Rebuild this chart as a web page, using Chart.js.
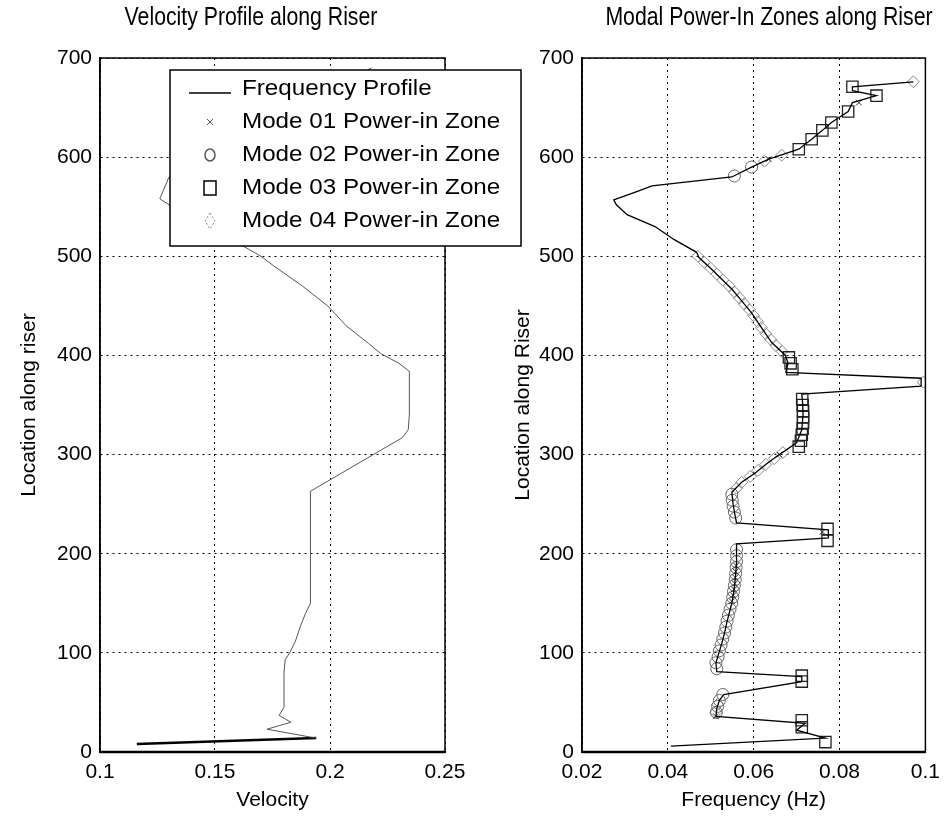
<!DOCTYPE html>
<html>
<head>
<meta charset="utf-8">
<title>Velocity profile and modal power-in zones</title>
<script src="https://cdn.jsdelivr.net/npm/chart.js@4.4.1/dist/chart.umd.min.js"></script>
<style>
  html, body { margin: 0; padding: 0; background: #fff; }
  #wrap { position: relative; width: 948px; height: 821px; overflow: hidden; }
  .panel { position: absolute; top: 0; height: 821px; }
  #left  { left: 0; width: 530px; z-index: 2; }
  #right { left: 505px; width: 443px; z-index: 1; }
</style>
</head>
<body>
<div id="wrap">
  <div class="panel" id="right"><canvas id="freqChart"></canvas></div>
  <div class="panel" id="left"><canvas id="velChart"></canvas></div>
</div>
<script>
// ---- data ----
const LOC_TICKS = [0, 100, 200, 300, 400, 500, 600, 700];
const VEL_TICKS = [0.1, 0.15, 0.2, 0.25];
const FREQ_TICKS = [0.02, 0.04, 0.06, 0.08, 0.1];

const LEGEND_LABELS = [
  'Frequency Profile',
  'Mode 01 Power-in Zone',
  'Mode 02 Power-in Zone',
  'Mode 03 Power-in Zone',
  'Mode 04 Power-in Zone',
];

// velocity profile (left panel)
const velLoc = [8, 14, 23, 30, 37, 45, 60, 80, 93, 101, 112, 126, 140, 150, 180, 220, 263, 317, 325, 340,
  360, 384, 392, 402, 412, 430, 450, 470, 490, 500, 520, 540, 558, 580, 620, 660, 690];
const velVal = [0.116, 0.194, 0.1726, 0.183, 0.1779, 0.18, 0.18, 0.18, 0.1805, 0.1827, 0.185, 0.187, 0.1894, 0.1915, 0.1915, 0.1915, 0.1915, 0.2314, 0.234, 0.2345,
  0.2345, 0.2345, 0.23, 0.222, 0.2168, 0.207, 0.199, 0.188, 0.1757, 0.17, 0.155, 0.138, 0.126, 0.13, 0.16, 0.195, 0.218];

// frequency profile (right panel)
const freqLoc = [6, 14, 22, 29, 36, 44, 52, 58, 71, 76, 81, 90, 100, 110, 120, 130, 140, 150, 160, 170,
  180, 190, 200, 210, 216, 224, 231, 240, 250, 262, 272, 282, 290, 298, 305, 312, 325, 340, 352, 361,
  369, 377, 383, 392, 400, 413, 428, 443, 455, 467, 477, 487, 499, 504, 517, 530, 542, 552, 557, 565,
  571, 580, 590, 598, 608, 618, 627, 635, 646, 655, 662, 667, 671, 676];
const freqVal = [0.0407, 0.0767, 0.07, 0.072, 0.0512, 0.0514, 0.052, 0.053, 0.0712, 0.0712, 0.0514, 0.0512, 0.0519, 0.0526, 0.0532, 0.0537, 0.0543, 0.0549, 0.0553, 0.0556,
  0.0558, 0.056, 0.056, 0.056, 0.0774, 0.0774, 0.056, 0.0556, 0.0552, 0.0549, 0.0572, 0.0605, 0.0628, 0.0653, 0.0677, 0.07, 0.0712, 0.0715, 0.0714, 0.0712,
  0.099, 0.099, 0.0675, 0.068, 0.0674, 0.0642, 0.0618, 0.0595, 0.0572, 0.0549, 0.0525, 0.0502, 0.0472, 0.0467, 0.0414, 0.037, 0.0305, 0.028, 0.0274, 0.0326,
  0.0363, 0.0549, 0.0595, 0.0635, 0.0705, 0.0735, 0.076, 0.0781, 0.082, 0.083, 0.0886, 0.083, 0.083, 0.0972];

// power-in zone markers
const m1Loc = [36, 152, 158, 164, 170, 176, 182, 188, 222, 300, 598, 655];
const m1Val = [0.0512, 0.0549, 0.0552, 0.0554, 0.0556, 0.0557, 0.0558, 0.0559, 0.076, 0.066, 0.0635, 0.0845];

const m2Loc = [40, 46, 52, 58, 84, 90, 96, 102, 108, 114, 120, 126, 132, 138, 144, 150, 156, 162, 168, 174,
  180, 186, 192, 198, 204, 236, 242, 248, 254, 260, 581, 590];
const m2Val = [0.0513, 0.0516, 0.052, 0.0528, 0.0514, 0.0512, 0.0517, 0.052, 0.0524, 0.0528, 0.0532, 0.0535, 0.0538, 0.0541, 0.0545, 0.0549, 0.0551, 0.0553, 0.0555, 0.0557,
  0.0558, 0.0559, 0.056, 0.056, 0.056, 0.0558, 0.0555, 0.0552, 0.055, 0.0549, 0.0555, 0.0595];

const m3Loc = [10, 25, 32, 71, 77, 213, 225, 308, 314, 320, 326, 332, 338, 344, 350, 356, 386, 392, 398, 608,
  618, 627, 635, 646, 662, 671];
const m3Val = [0.0767, 0.0712, 0.0712, 0.0712, 0.0712, 0.0772, 0.0772, 0.0705, 0.071, 0.0712, 0.0714, 0.0715, 0.0715, 0.0715, 0.0714, 0.0713, 0.069, 0.0686, 0.0682, 0.0705,
  0.0735, 0.076, 0.0781, 0.082, 0.0886, 0.083];

const m4Loc = [40, 48, 266, 272, 278, 284, 290, 296, 302, 373, 404, 410, 416, 422, 428, 434, 440, 446, 452, 458,
  464, 470, 476, 482, 488, 494, 500, 596, 602, 676];
const m4Val = [0.0512, 0.0516, 0.056, 0.0572, 0.0592, 0.061, 0.0628, 0.0648, 0.0668, 0.0995, 0.0666, 0.0652, 0.064, 0.0628, 0.0618, 0.0609, 0.06, 0.059, 0.0578, 0.0567,
  0.0555, 0.0543, 0.0528, 0.0514, 0.05, 0.0485, 0.047, 0.0625, 0.0665, 0.0972];

// ---- styling ----
const SANS = "'Liberation Sans', Arial, Helvetica, sans-serif";
const INK = '#000';
const GREY = '#555';

Chart.defaults.font.family = SANS;
Chart.defaults.color = INK;
Chart.defaults.animation = false;

const pairs = (xs, ys) => ys.map((y, i) => ({ x: xs[i], y }));
const fmt = v => String(+Number(v).toFixed(4));

// text squeezed/stretched horizontally, the scan uses a condensed title face
function wideText(ctx, text, x, y, size, sx, align) {
  ctx.save();
  ctx.font = size + 'px ' + SANS;
  ctx.textAlign = align; ctx.textBaseline = 'middle';
  ctx.translate(x, y);
  ctx.scale(sx, 1);
  ctx.fillText(text, 0, 0);
  ctx.restore();
}

// ---- legend symbols (Matlab-like box drawn inside the left axes) ----
function drawSymbol(ctx, i, x, y) {
  ctx.save();
  ctx.lineWidth = 1.5;
  if (i === 0) {
    ctx.strokeStyle = INK;
    ctx.beginPath(); ctx.moveTo(x - 21, y + 4); ctx.lineTo(x + 21, y + 4); ctx.stroke();
  } else if (i === 1) {
    ctx.strokeStyle = GREY; ctx.lineWidth = 1;
    ctx.beginPath();
    ctx.moveTo(x - 3, y - 3); ctx.lineTo(x + 3, y + 3);
    ctx.moveTo(x + 3, y - 3); ctx.lineTo(x - 3, y + 3);
    ctx.stroke();
  } else if (i === 2) {
    ctx.strokeStyle = GREY;
    ctx.beginPath(); ctx.ellipse(x, y, 5, 6, 0, 0, Math.PI * 2); ctx.stroke();
  } else if (i === 3) {
    ctx.strokeStyle = INK;
    ctx.strokeRect(x - 6, y - 7, 12, 14);
  } else {
    ctx.strokeStyle = '#888'; ctx.lineWidth = 1;
    ctx.setLineDash([2, 2]);
    ctx.beginPath();
    ctx.moveTo(x, y - 8); ctx.lineTo(x + 5, y); ctx.lineTo(x, y + 8); ctx.lineTo(x - 5, y); ctx.closePath();
    ctx.stroke();
  }
  ctx.restore();
}

function drawLegend(ctx) {
  ctx.save();
  ctx.fillStyle = '#fff';
  ctx.fillRect(170, 70, 351, 176);
  ctx.strokeStyle = INK; ctx.lineWidth = 1.5;
  ctx.strokeRect(170, 70, 351, 176);
  ctx.fillStyle = INK;
  LEGEND_LABELS.forEach((label, i) => {
    const y = 89 + i * 33;
    drawSymbol(ctx, i, 210, y);
    wideText(ctx, label, 242, y, 22, 1.1, 'left');
  });
  ctx.restore();
}

// box frame + panel title (+ legend on the left panel)
const panelPlugin = {
  id: 'panel',
  afterDraw(chart, args, opts) {
    const { ctx, chartArea: a } = chart;
    ctx.save();
    ctx.strokeStyle = INK;
    ctx.lineWidth = 1.5;
    ctx.strokeRect(a.left, a.top, a.right - a.left, a.bottom - a.top);
    ctx.lineWidth = 2.5;
    ctx.beginPath(); ctx.moveTo(a.left, a.bottom); ctx.lineTo(a.right, a.bottom); ctx.stroke();
    ctx.fillStyle = INK;
    wideText(ctx, opts.text, opts.x, opts.y, 25, 0.85, 'center');
    ctx.restore();
    if (opts.legend) drawLegend(ctx);
  }
};

function axes(xTicks, xTitle, yTitle, yWidth, yTitlePad) {
  const grid = { color: INK, lineWidth: 1, drawTicks: false };
  return {
    x: {
      type: 'linear', min: xTicks[0], max: xTicks[xTicks.length - 1],
      afterFit: s => { s.height = 69; },
      afterBuildTicks: s => { s.ticks = xTicks.map(v => ({ value: v })); },
      ticks: { padding: 8, font: { size: 21 }, color: INK, callback: fmt, maxRotation: 0 },
      grid, border: { display: true, color: INK, width: 2, dash: [2, 4] },
      title: { display: true, text: xTitle, font: { size: 21 }, color: INK, padding: { top: 0, bottom: 8 } },
    },
    y: {
      type: 'linear', min: 0, max: 700,
      afterFit: s => { s.width = yWidth; },
      afterBuildTicks: s => { s.ticks = LOC_TICKS.map(v => ({ value: v })); },
      ticks: { padding: 8, font: { size: 21 }, color: INK },
      grid, border: { display: true, color: INK, width: 1.5, dash: [2, 4] },
      title: { display: true, text: yTitle, font: { size: 21 }, color: INK, padding: { top: yTitlePad, bottom: 0 } },
    },
  };
}

// ---- left: velocity profile ----
new Chart(document.getElementById('velChart'), {
  type: 'scatter',
  data: {
    datasets: [{
      label: 'Velocity Profile',
      data: pairs(velVal, velLoc),
      showLine: true,
      pointRadius: 0,
      borderColor: GREY,
      borderWidth: 1,
      segment: {
        borderColor: c => c.p0DataIndex < 1 ? INK : GREY,
        borderWidth: c => c.p0DataIndex < 1 ? 2.5 : 1,
      },
    }]
  },
  options: {
    responsive: true, maintainAspectRatio: false, events: [],
    layout: { padding: { left: 0, right: 85, top: 58, bottom: 0 } },
    plugins: {
      legend: { display: false }, tooltip: { enabled: false }, title: { display: false },
      panel: { text: 'Velocity Profile along Riser', x: 251, y: 18, legend: true },
    },
    scales: axes(VEL_TICKS, 'Velocity', 'Location along riser', 100, 17),
  },
  plugins: [panelPlugin],
});

// ---- right: modal power-in zones ----
new Chart(document.getElementById('freqChart'), {
  type: 'scatter',
  data: {
    datasets: [
      { label: LEGEND_LABELS[0], data: pairs(freqVal, freqLoc), showLine: true, pointRadius: 0,
        borderColor: INK, borderWidth: 1.3, order: 0 },
      { label: LEGEND_LABELS[1], data: pairs(m1Val, m1Loc), pointStyle: 'crossRot', pointRadius: 4,
        borderColor: '#333', borderWidth: 1, backgroundColor: 'transparent', order: 1 },
      { label: LEGEND_LABELS[2], data: pairs(m2Val, m2Loc), pointStyle: 'circle', pointRadius: 6,
        borderColor: '#666', borderWidth: 1, backgroundColor: 'transparent', order: 2 },
      { label: LEGEND_LABELS[3], data: pairs(m3Val, m3Loc), pointStyle: 'rect', pointRadius: 8,
        borderColor: '#222', borderWidth: 1.3, backgroundColor: 'transparent', order: 3 },
      { label: LEGEND_LABELS[4], data: pairs(m4Val, m4Loc), pointStyle: 'rectRot', pointRadius: 6,
        borderColor: '#888', borderWidth: 1, backgroundColor: 'transparent', order: 4 },
    ]
  },
  options: {
    responsive: true, maintainAspectRatio: false, events: [],
    layout: { padding: { left: 0, right: 20, top: 58, bottom: 0 } },
    plugins: {
      legend: { display: false }, tooltip: { enabled: false }, title: { display: false },
      panel: { text: 'Modal Power-In Zones along Riser', x: 264, y: 18, legend: false },
    },
    scales: axes(FREQ_TICKS, 'Frequency (Hz)', 'Location along Riser', 77, 6),
  },
  plugins: [panelPlugin],
});
</script>
</body>
</html>
